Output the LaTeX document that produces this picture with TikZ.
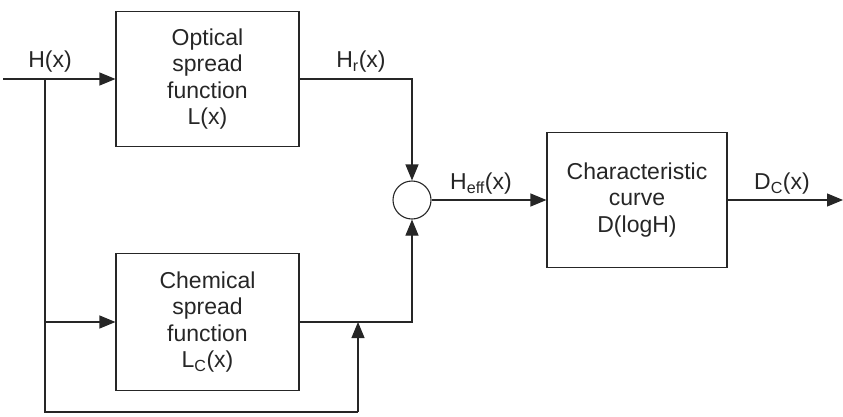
\documentclass[tikz,border=0pt]{standalone}
\usepackage{fontspec}
\setmainfont{Liberation Sans}
\usetikzlibrary{arrows.meta}
\begin{document}
\begin{tikzpicture}[x=1pt,y=-1pt,
  line width=1.1pt, draw=black!85,
  arr/.style={-{Triangle[length=16pt,width=13pt]}},
  blk/.style={draw, rectangle, inner sep=0pt, align=center, font=\fontsize{23}{26.5}\selectfont, text=black!85},
  lbl/.style={font=\fontsize{23}{26}\selectfont, text=black!85, inner sep=0pt}]
\useasboundingbox (0,0) rectangle (843,416);
\node[blk, minimum width=183pt, minimum height=135pt] (opt) at (207.5,79) {Optical\\spread\\function\\L(x)};
\node[blk, minimum width=183pt, minimum height=137pt] (chem) at (207.5,322) {Chemical\\spread\\function\\L\textsubscript{C}(x)};
\node[blk, minimum width=180pt, minimum height=135pt] (char) at (637,200) {Characteristic\\curve\\D(logH)};
\node[draw, circle, minimum size=38pt, inner sep=0pt] (sum) at (412,200) {};
\coordinate (in) at (3,79);
\coordinate (b1) at (45,79);
\coordinate (b2) at (45,322);
\coordinate (b3) at (45,412);
\coordinate (b4) at (358,412);
\coordinate (b5) at (358,322);
\coordinate (out) at (843,200);
\draw[arr] (in) -- (opt.west);
\draw (b1) -- (b3) -- (b4);
\draw[arr] (b4) -- (b5);
\draw[arr] (b2) -- (chem.west);
\draw[arr] (opt.east) -| (sum.north);
\draw[arr] (chem.east) -| (sum.south);
\draw[arr] (sum.east) -- (char.west);
\draw[arr] (char.east) -- (out);
\node[lbl] (lh) at (50,62) {H(x)};
\node[lbl] (lhr) at (361,62) {H\textsubscript{r}(x)};
\node[lbl] (lhe) at (481,184) {H\textsubscript{eff}(x)};
\node[lbl] (ldc) at (782,184) {D\textsubscript{C}(x)};
\end{tikzpicture}
\end{document}
